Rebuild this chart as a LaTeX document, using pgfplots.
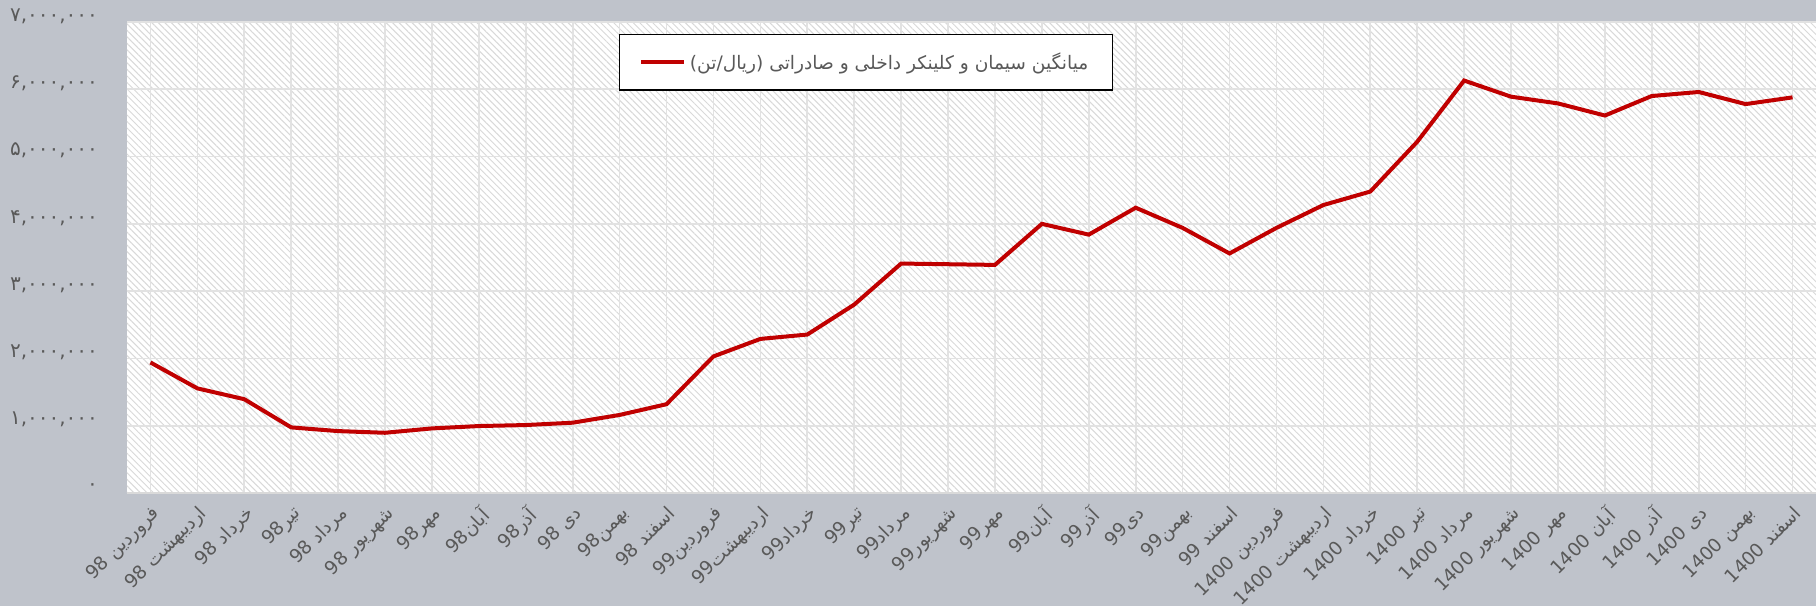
\documentclass[border=0pt]{standalone}
\usepackage{fontspec}
\usepackage{pgfplots}
\pgfplotsset{compat=1.18}
\usepackage{pgfplotstable}
\usetikzlibrary{patterns.meta}
\TeXXeTstate=1
\newfontfamily\arabicfont[Script=Arabic]{DejaVu Sans}
\definecolor{bgc}{RGB}{191,195,203}
\definecolor{txt}{RGB}{89,89,89}
\definecolor{gridc}{RGB}{226,226,226}
\definecolor{linec}{RGB}{192,0,0}

\pgfplotstableread{
x y
0 1940000
1 1555000
2 1394000
3 975000
4 920000
5 895000
6 960000
7 995000
8 1010000
9 1045000
10 1160000
11 1320000
12 2030000
13 2290000
14 2355000
15 2800000
16 3410000
17 3400000
18 3390000
19 4000000
20 3840000
21 4240000
22 3940000
23 3560000
24 3940000
25 4280000
26 4480000
27 5220000
28 6130000
29 5890000
30 5790000
31 5610000
32 5900000
33 5960000
34 5780000
35 5880000
}\datatable

\begin{document}
\begin{tikzpicture}
\fill[bgc] (-63.5pt,-56.5pt) rectangle (844.5pt,246.5pt);
\path[use as bounding box] (-63.5pt,-56.5pt) rectangle (844.5pt,246.5pt);
\begin{axis}[
  at={(0pt,0pt)}, anchor=south west,
  scale only axis, width=844.5pt, height=235.5pt,
  xmin=-0.5, xmax=35.5, ymin=0, ymax=7000000,
  xtick={0,...,35},
  xticklabels={\beginR فروردین 98\endR,\beginR اردیبهشت 98\endR,\beginR خرداد 98\endR,\beginR تیر98\endR,\beginR مرداد 98\endR,\beginR شهریور 98\endR,\beginR مهر98\endR,\beginR آبان98\endR,\beginR آذر98\endR,\beginR دی 98\endR,\beginR بهمن98\endR,\beginR اسفند 98\endR,
    \beginR فروردین99\endR,\beginR اردیبهشت99\endR,\beginR خرداد99\endR,\beginR تیر99\endR,\beginR مرداد99\endR,\beginR شهریور99\endR,\beginR مهر99\endR,\beginR آبان99\endR,\beginR آذر99\endR,\beginR دی99\endR,\beginR بهمن99\endR,\beginR اسفند 99\endR,
    \beginR فروردین 1400\endR,\beginR اردیبهشت 1400\endR,\beginR خرداد 1400\endR,\beginR تیر 1400\endR,\beginR مرداد 1400\endR,\beginR شهریور 1400\endR,\beginR مهر 1400\endR,\beginR آبان 1400\endR,\beginR آذر 1400\endR,\beginR دی 1400\endR,\beginR بهمن 1400\endR,\beginR اسفند 1400\endR},
  ytick={0,1000000,2000000,3000000,4000000,5000000,6000000,7000000},
  yticklabels={۰,{۱,۰۰۰,۰۰۰},{۲,۰۰۰,۰۰۰},{۳,۰۰۰,۰۰۰},{۴,۰۰۰,۰۰۰},{۵,۰۰۰,۰۰۰},{۶,۰۰۰,۰۰۰},{۷,۰۰۰,۰۰۰}},
  scaled y ticks=false,
  grid=major,
  major grid style={gridc, line width=0.8pt},
  major tick length=0pt,
  axis x line*=bottom, axis y line*=left,
  x axis line style={draw=black!15, line width=1pt, -},
  y axis line style={draw=none},
  axis background/.style={preaction={fill=white}, pattern={Lines[angle=-45,distance=2.3pt,line width=0.5pt]}, pattern color=black!15},
  xticklabel style={font=\arabicfont\fontsize{9.3}{10}\selectfont, text=txt, rotate=45, anchor=north east, inner sep=1pt},
  yticklabel style={font=\arabicfont\fontsize{10}{11}\selectfont, text=txt, yshift=3pt},
  yticklabel shift=11pt,
  xticklabel shift=4pt,
  legend style={at={(rel axis cs:0.291,0.975)}, anchor=north west, draw=black, fill=white, line width=0.75pt,
    font=\arabicfont\fontsize{9.3}{12}\selectfont, text=txt, inner xsep=10pt, inner ysep=7pt},
  legend image code/.code={\draw[#1] (0cm,0cm) -- (0.75cm,0cm);},
]
\addplot[linec, line width=2pt] table[x=x,y=y] {\datatable};
\addlegendentry{\beginR میانگین سیمان و کلینکر داخلی و صادراتی (ریال/تن)\endR}
\end{axis}
\end{tikzpicture}
\end{document}
